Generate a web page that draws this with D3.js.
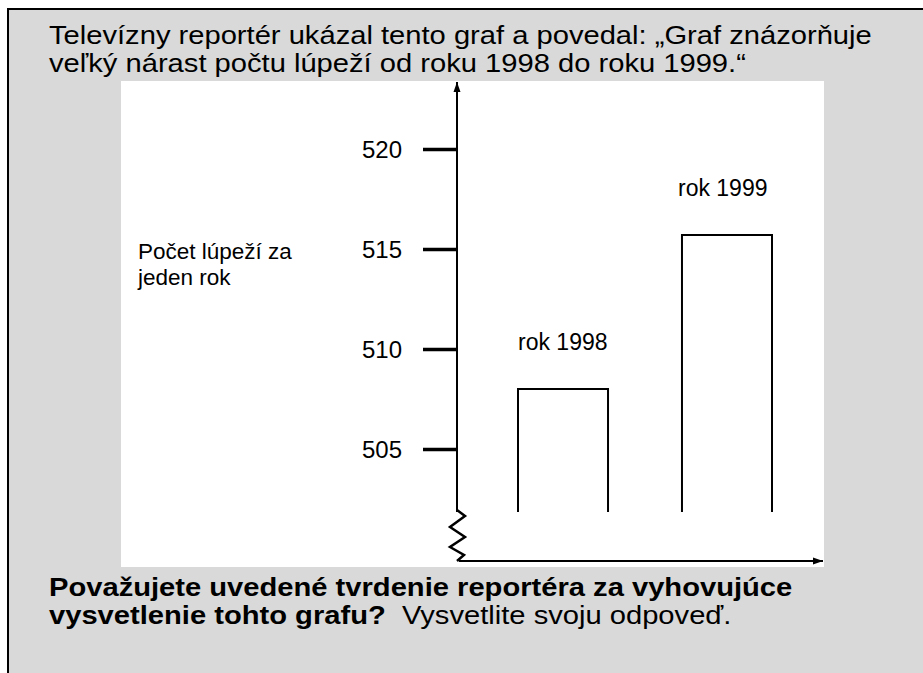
<!DOCTYPE html>
<html>
<head>
<meta charset="utf-8">
<script src="https://cdn.jsdelivr.net/npm/d3@7"></script>
<style>
  body { margin: 0; background: #fff; }
  svg text { font-family: "Liberation Sans", Arial, sans-serif; fill: #000; white-space: pre; }
</style>
</head>
<body>
<div id="chart"></div>
<script>
const years = ["1998", "1999"];
const robberies = [508, 515.7];
const barLabels = ["rok 1998", "rok 1999"];
const tickValues = [505, 510, 515, 520];
const baseValue = 501.85;
const titleLines = [
    "Televízny reportér ukázal tento graf a povedal: „Graf znázorňuje",
    "veľký nárast počtu lúpeží od roku 1998 do roku 1999.“"
];
const yLabelLines = ["Počet lúpeží za", "jeden rok"];

const W = 923, H = 673;

const svg = d3.select("#chart").append("svg")
    .attr("width", W)
    .attr("height", H);

// gray card with black top/left edge
svg.append("rect")
    .attr("x", 8).attr("y", 9)
    .attr("width", W).attr("height", H)
    .attr("fill", "#d9d9d9");
svg.append("path")
    .attr("d", `M8,${H} V9 H${W}`)
    .attr("fill", "none")
    .attr("stroke", "#000")
    .attr("stroke-width", 2);

// title: slightly condensed glyphs so the two lines sit close like the original
svg.selectAll(".title")
    .data(titleLines)
    .enter().append("text")
    .attr("class", "title")
    .attr("transform", (d, i) => `translate(49,${44 + i * 28}) scale(1.1,1)`)
    .attr("font-size", "26.5px")
    .text(d => d);

// white plot panel
svg.append("rect")
    .attr("x", 121).attr("y", 81)
    .attr("width", 703).attr("height", 486)
    .attr("fill", "#fff");

const y = d3.scaleLinear()
    .domain([505, 520])
    .range([449, 149]);

const x = d3.scaleBand()
    .domain(years)
    .range([518, 772])
    .paddingInner(0.451)
    .paddingOuter(0);

const axisX = 457;

const yAxis = svg.append("g")
    .attr("transform", `translate(${axisX},0)`)
    .call(d3.axisLeft(y).tickValues(tickValues).tickSize(34).tickPadding(21).tickFormat(d3.format("d")));
yAxis.select(".domain").remove();
yAxis.selectAll(".tick line").attr("stroke", "#000").attr("stroke-width", 3.5);
yAxis.selectAll(".tick text")
    .attr("font-size", "24px")
    .attr("font-family", "Liberation Sans, Arial, sans-serif")
    .attr("fill", "#000")
    .attr("dy", "0.36em");

// arrow heads
const defs = svg.append("defs");
defs.append("marker")
    .attr("id", "arrow")
    .attr("viewBox", "0 0 10 10")
    .attr("refX", 10).attr("refY", 5)
    .attr("markerWidth", 10).attr("markerHeight", 10)
    .attr("markerUnits", "userSpaceOnUse")
    .attr("orient", "auto")
    .append("path")
    .attr("d", "M0,1.5 L10,5 L0,8.5 Z")
    .attr("fill", "#000");

// vertical axis line
svg.append("line")
    .attr("x1", axisX).attr("x2", axisX)
    .attr("y1", y(baseValue)).attr("y2", 82)
    .attr("stroke", "#000").attr("stroke-width", 2)
    .attr("marker-end", "url(#arrow)");

// broken-axis zigzag
const zig = [[0, 0], [8, 6], [-7, 17], [8, 27], [-7, 37], [7, 45], [0, 51]];
svg.append("path")
    .attr("d", d3.line()(zig.map(p => [axisX + p[0], y(baseValue) - 2 + p[1]])))
    .attr("fill", "none")
    .attr("stroke", "#000")
    .attr("stroke-width", 2.5)
    .attr("stroke-linejoin", "miter");

// horizontal axis line
svg.append("line")
    .attr("x1", axisX + 2).attr("x2", 823)
    .attr("y1", 561).attr("y2", 561)
    .attr("stroke", "#000").attr("stroke-width", 2)
    .attr("marker-end", "url(#arrow)");

// open-bottom bars
const bars = years.map((yr, i) => ({ yr, v: robberies[i], label: barLabels[i] }));
svg.selectAll(".bar")
    .data(bars)
    .enter().append("path")
    .attr("class", "bar")
    .attr("d", d => {
        const x0 = x(d.yr), x1 = x(d.yr) + x.bandwidth();
        return `M${x0},${y(baseValue)} V${y(d.v)} H${x1} V${y(baseValue)}`;
    })
    .attr("fill", "none")
    .attr("stroke", "#000")
    .attr("stroke-width", 2);

svg.selectAll(".bar-label")
    .data(bars)
    .enter().append("text")
    .attr("class", "bar-label")
    .attr("x", d => x(d.yr) + (d.yr === "1999" ? -4 : 0))
    .attr("y", d => y(d.v) - 39)
    .attr("font-size", "23px")
    .text(d => d.label);

svg.selectAll(".ylab")
    .data(yLabelLines)
    .enter().append("text")
    .attr("class", "ylab")
    .attr("x", 138)
    .attr("y", (d, i) => 259 + i * 26)
    .attr("font-size", "22.5px")
    .text(d => d);

// question
const q = svg.append("g").attr("font-size", "26.5px");
q.append("text")
    .attr("transform", "translate(49,596) scale(1.1,1)")
    .attr("font-weight", "bold")
    .text("Považujete uvedené tvrdenie reportéra za vyhovujúce");
const q2 = q.append("text").attr("transform", "translate(49,624) scale(1.1,1)");
q2.append("tspan").attr("font-weight", "bold").text("vysvetlenie tohto grafu?");
q2.append("tspan").text("  Vysvetlite svoju odpoveď.");
</script>
</body>
</html>
